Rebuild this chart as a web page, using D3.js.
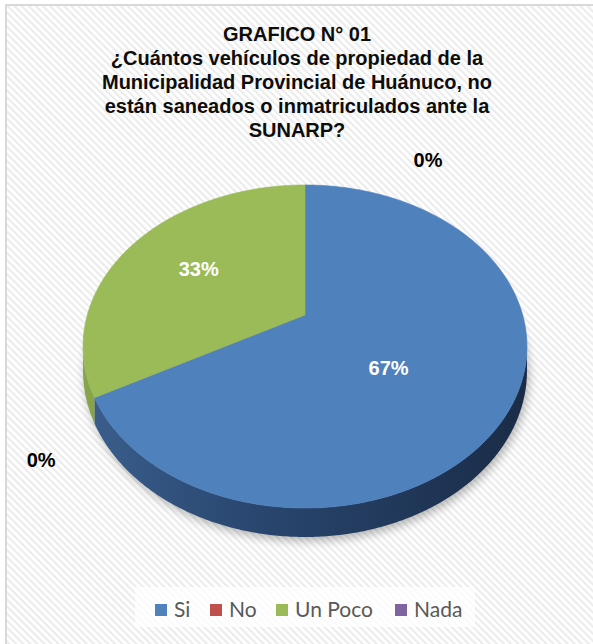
<!DOCTYPE html>
<html><head><meta charset="utf-8">
<script src="https://cdn.jsdelivr.net/npm/d3@7"></script>
<style>html,body{margin:0;padding:0;background:#fff;}svg{display:block;}</style>
</head><body>
<svg id="c" width="593" height="644"></svg>
<script>
// ---- data ----
const categories = ["Si", "No", "Un Poco", "Nada"];
const values = [67, 0, 33, 0];
const labels = ["67%", "0%", "33%", "0%"];
const colors = ["#4F81BD", "#C0504D", "#9BBB59", "#8064A2"];
const sideColors = ["#2b4a74", "#7a2f2d", "#86a44a", "#4e3a66"];
const titleLines = ["GRAFICO N° 01", "¿Cuántos vehículos de propiedad de la", "Municipalidad Provincial de Huánuco, no", "están saneados o inmatriculados ante la", "SUNARP?"];

// ---- layout ----
const W = 593, H = 644;
const CX = 305, CY = 315, RX = 217.7, RY = 155.4, K = 0.195, DEPTH = 23.3;
const svg = d3.select("#c");
const defs = svg.append("defs");

const pat = defs.append("pattern").attr("id", "stripes").attr("patternUnits", "userSpaceOnUse")
  .attr("width", 5).attr("height", 5).attr("patternTransform", "rotate(-45)");
pat.append("rect").attr("width", 5).attr("height", 5).attr("fill", "#ffffff");
pat.append("rect").attr("width", 2.2).attr("height", 5).attr("fill", "#ececec");

const sg = defs.append("linearGradient").attr("id", "sideG").attr("gradientUnits", "userSpaceOnUse")
  .attr("x1", CX - RX).attr("x2", CX + RX).attr("y1", 0).attr("y2", 0);
sg.append("stop").attr("offset", 0).attr("stop-color", "#3a5e8c");
sg.append("stop").attr("offset", 0.35).attr("stop-color", "#2a4871");
sg.append("stop").attr("offset", 1).attr("stop-color", "#1a2c48");

const blur = defs.append("filter").attr("id", "blur").attr("x", "-20%").attr("y", "-20%").attr("width", "140%").attr("height", "140%");
blur.append("feGaussianBlur").attr("stdDeviation", 5);

// background
svg.append("rect").attr("width", W).attr("height", H).attr("fill", "#ffffff");
svg.append("rect").attr("x", 6).attr("y", 5).attr("width", W).attr("height", H).attr("fill", "url(#stripes)")
  .attr("stroke", "#d9d9d9").attr("stroke-width", 2);

// projection of a point on the (tilted, perspective) disk
function proj(theta, r, z) {
  const u = r * Math.sin(theta), v = r * Math.cos(theta);
  const s = 1 / (1 + K * v);
  return [CX + RX * u * s, CY - RY * v * s + (z || 0) * s];
}
function arcPts(a0, a1, r, z) {
  const n = Math.max(2, Math.ceil(Math.abs(a1 - a0) / 0.01));
  return d3.range(n + 1).map(i => proj(a0 + (a1 - a0) * i / n, r, z));
}
const line = d3.line();

const pie = d3.pie().sort(null).value(d => d).startAngle(0).endAngle(2 * Math.PI);
const arcs = pie(values);

// shadow
svg.append("path").attr("d", line(arcPts(0, 2 * Math.PI, 1.0, DEPTH)) + "Z")
  .attr("transform", "translate(2,4)").attr("fill", "#000").attr("opacity", 0.28).attr("filter", "url(#blur)");

// visible side range
const visA = Math.acos(-K), visB = 2 * Math.PI - Math.acos(-K);
const gSide = svg.append("g");
arcs.forEach((d, i) => {
  const a0 = Math.max(d.startAngle, visA), a1 = Math.min(d.endAngle, visB);
  if (a1 <= a0) return;
  const pts = arcPts(a0, a1, 1, 0).concat(arcPts(a1, a0, 1, DEPTH));
  gSide.append("path").attr("d", line(pts) + "Z")
    .attr("fill", i === 0 ? "url(#sideG)" : sideColors[i]).attr("stroke", "none");
});

// top faces
const gTop = svg.append("g");
arcs.forEach((d, i) => {
  if (d.value === 0) return;
  const pts = [proj(0, 0, 0)].concat(arcPts(d.startAngle, d.endAngle, 1, 0));
  gTop.append("path").attr("d", line(pts) + "Z").attr("fill", colors[i])
    .attr("stroke", colors[i]).attr("stroke-width", 0.6);
});

// data labels
const outsideNudge = [[0, 0], [-25, 51], [0, 0], [123, -12]];
arcs.forEach((d, i) => {
  const mid = (d.startAngle + d.endAngle) / 2;
  let p, fill;
  if (d.value > 0) {
    p = proj(mid, 0.5, 0);
    fill = "#ffffff";
    if (i === 0) { p = [p[0] - 15, p[1] + 11]; } else { p = [p[0] - 17, p[1] - 8]; }
  } else {
    p = proj(mid, 1.12, 0);
    p = [p[0] + outsideNudge[i][0], p[1] + outsideNudge[i][1]];
    fill = "#000000";
  }
  svg.append("text").attr("x", p[0]).attr("y", p[1]).attr("dy", "0.35em")
    .attr("text-anchor", "middle").attr("font-family", "'Liberation Sans', Arial, sans-serif")
    .attr("font-weight", "bold").attr("font-size", 20).attr("fill", fill).text(labels[i]);
});

// title
const tt = svg.append("text").attr("text-anchor", "middle")
  .attr("font-family", "'Liberation Sans', Arial, sans-serif").attr("font-weight", "bold")
  .attr("font-size", 20).attr("fill", "#0d0d0d");
titleLines.forEach((t, i) => {
  tt.append("tspan").attr("x", 297).attr("y", 40.5 + i * 24).text(t);
});

// legend
svg.append("rect").attr("x", 135).attr("y", 587).attr("width", 340).attr("height", 40).attr("fill", "#ffffff").attr("opacity", 0.75);
const legX = [155, 210, 276, 395];
const lg = svg.append("g");
categories.forEach((c, i) => {
  lg.append("rect").attr("x", legX[i]).attr("y", 604).attr("width", 12).attr("height", 12).attr("fill", colors[i]);
  lg.append("text").attr("x", legX[i] + 19).attr("y", 617).attr("font-family", "Lato, 'Open Sans', sans-serif")
    .attr("font-size", 21).attr("fill", "#595959").text(c);
});
</script>
</body></html>
